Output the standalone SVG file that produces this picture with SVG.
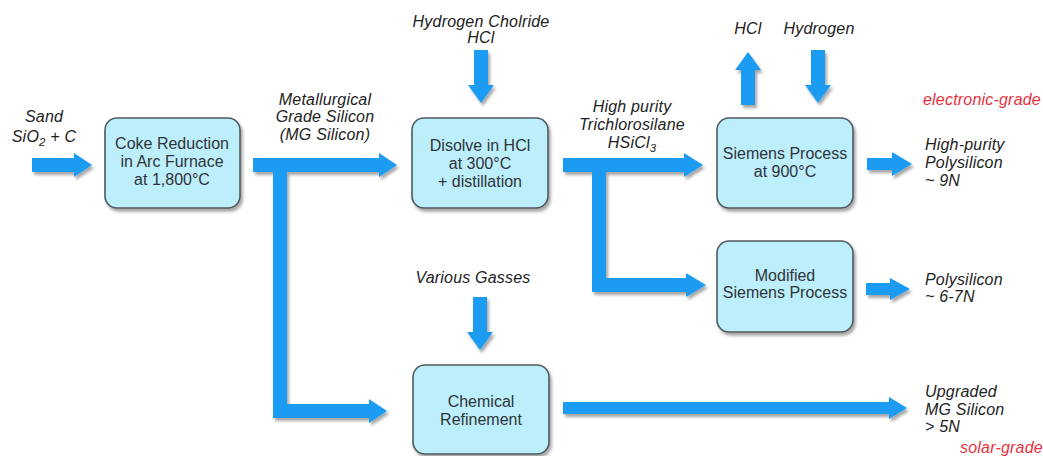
<svg xmlns="http://www.w3.org/2000/svg" width="1043" height="456" viewBox="0 0 1043 456">
<defs>
<filter id="sh" x="-10%" y="-10%" width="130%" height="140%">
<feDropShadow dx="2" dy="3" stdDeviation="1.8" flood-color="#000" flood-opacity="0.35"/>
</filter>
<style>
.box{fill:#bdeefb;stroke:#50595e;stroke-width:1.6;filter:url(#sh)}
.arr{fill:#1c9bf3;filter:url(#sh)}
.bt{font-family:"Liberation Sans",Arial,sans-serif;font-size:16px;fill:#2e3538;text-anchor:middle}
.lb{font-family:"Liberation Sans",Arial,sans-serif;font-size:16px;letter-spacing:0.2px;font-style:italic;fill:#222}
.c{text-anchor:middle}
.red{fill:#e8313e}
</style>
</defs>
<rect width="1043" height="456" fill="#fff"/>
<g id="connectors">
<path class="arr" d="M32 158H74V153L92 165L74 177V172H32Z"/>
<path class="arr" d="M253 158H379V153L397 165L379 177V172H287V404H369V399L387 411L369 423V418H273V172H253Z"/>
<path class="arr" d="M474 50H488V85H494L481 103L468 85H474Z"/>
<path class="arr" d="M563 158H684V153L703 165L684 177V172H606V278H686V273L706 285L686 297V292H592V172H563Z"/>
<path class="arr" d="M741 105V70H735L748 52L761 70H755V105Z"/>
<path class="arr" d="M811 50H825V85H831L818 103L805 85H811Z"/>
<path class="arr" d="M867 158H892V152L912 164L892 176V170H867Z"/>
<path class="arr" d="M866 283H890V278L910 289L890 300V295H866Z"/>
<path class="arr" d="M473 297H487V332H493L480 350L467 332H473Z"/>
<path class="arr" d="M563 402H889V397L907 408L889 419V414H563Z"/>
</g>
<g id="n-input">
<text class="lb c" x="44" y="122">Sand</text>
<text class="lb c" x="44" y="142">SiO<tspan font-size="11.5" dy="4">2</tspan><tspan dy="-4"> + C</tspan></text>
</g>
<g id="n-coke">
<rect class="box" x="105" y="118" width="135" height="90" rx="12"/>
<text class="bt" x="172" y="149">Coke Reduction</text>
<text class="bt" x="172" y="167">in Arc Furnace</text>
<text class="bt" x="172" y="185">at 1,800°C</text>
</g>
<g id="n-mg">
<text class="lb c" x="325" y="105">Metallurgical</text>
<text class="lb c" x="325" y="122">Grade Silicon</text>
<text class="lb c" x="325" y="140">(MG Silicon)</text>
</g>
<g id="n-hcl-in">
<text class="lb c" x="481" y="27">Hydrogen Cholride</text>
<text class="lb c" x="481" y="43">HCl</text>
</g>
<g id="n-disolve">
<rect class="box" x="412" y="118" width="136" height="90" rx="12"/>
<text class="bt" x="480" y="151">Disolve in HCl</text>
<text class="bt" x="480" y="169">at 300°C</text>
<text class="bt" x="480" y="187">+ distillation</text>
</g>
<g id="n-tcs">
<text class="lb c" x="632" y="112">High purity</text>
<text class="lb c" x="632" y="130">Trichlorosilane</text>
<text class="lb c" x="632" y="148">HSiCl<tspan font-size="11.5" dy="4">3</tspan></text>
</g>
<g id="n-hcl-out"><text class="lb c" x="748" y="34">HCl</text></g>
<g id="n-hydrogen"><text class="lb c" x="819" y="34">Hydrogen</text></g>
<g id="n-eg"><text class="lb red" x="923" y="105">electronic-grade</text></g>
<g id="n-siemens">
<rect class="box" x="717" y="118" width="136" height="90" rx="12"/>
<text class="bt" x="785" y="159">Siemens Process</text>
<text class="bt" x="785" y="177">at 900°C</text>
</g>
<g id="n-hp">
<text class="lb" x="925" y="150">High-purity</text>
<text class="lb" x="925" y="168">Polysilicon</text>
<text class="lb" x="925" y="186">~ 9N</text>
</g>
<g id="n-modified">
<rect class="box" x="717" y="241" width="136" height="91" rx="12"/>
<text class="bt" x="785" y="281">Modified</text>
<text class="bt" x="785" y="298">Siemens Process</text>
</g>
<g id="n-poly">
<text class="lb" x="925" y="285">Polysilicon</text>
<text class="lb" x="925" y="302">~ 6-7N</text>
</g>
<g id="n-gasses"><text class="lb c" x="473" y="283">Various Gasses</text></g>
<g id="n-chem">
<rect class="box" x="413" y="365" width="136" height="89" rx="12"/>
<text class="bt" x="481" y="407">Chemical</text>
<text class="bt" x="481" y="425">Refinement</text>
</g>
<g id="n-umg">
<text class="lb" x="925" y="397">Upgraded</text>
<text class="lb" x="925" y="415">MG Silicon</text>
<text class="lb" x="925" y="432">&gt; 5N</text>
</g>
<g id="n-sg"><text class="lb red" x="960" y="453">solar-grade</text></g>
</svg>
